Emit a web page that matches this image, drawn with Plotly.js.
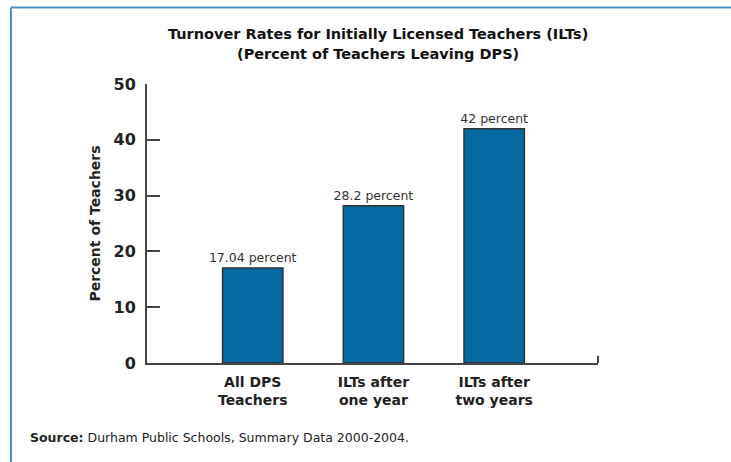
<!DOCTYPE html>
<html>
<head>
<meta charset="utf-8">
<script src="https://cdn.plot.ly/plotly-3.0.1.min.js"></script>
<style>html,body{margin:0;padding:0;background:#fff;}#chart{width:731px;height:462px;}</style>
</head>
<body>
<div id="chart"></div>
<script>
var categories = ["All DPS<br>Teachers", "ILTs after<br>one year", "ILTs after<br>two years"];
var values = [17.04, 28.2, 42];
var valueLabels = ["17.04 percent", "28.2 percent", "42 percent"];
var yTickValues = [0, 10, 20, 30, 40, 50];
var yTickLabels = ["0", "10", "20", "30", "40", "50"];

var FONT = "DejaVu Sans, Arial, sans-serif";

var trace = {
  type: "bar",
  x: [0, 1, 2],
  y: values,
  width: 0.5,
  text: valueLabels,
  textposition: "outside",
  constraintext: "none",
  textfont: {family: FONT, size: 12.5, color: "#333"},
  cliponaxis: false,
  marker: {color: "#036aa0", line: {color: "#333", width: 1.5}},
  hoverinfo: "none"
};

var layout = {
  width: 731, height: 462,
  margin: {l: 147, r: 133, t: 84, b: 99},
  paper_bgcolor: "#ffffff",
  plot_bgcolor: "#ffffff",
  showlegend: false,
  font: {family: FONT, color: "#222"},
  xaxis: {
    range: [-0.876, 2.86],
    tickvals: [0, 1, 2],
    ticktext: categories,
    showgrid: false, zeroline: false,
    showline: true, linecolor: "#444", linewidth: 2,
    ticks: "",
    tickfont: {family: FONT, size: 14, color: "#222", weight: "bold"},
    ticklabelstandoff: 5,
    fixedrange: true
  },
  yaxis: {
    range: [0, 50],
    tickvals: yTickValues,
    ticktext: yTickLabels,
    showgrid: false, zeroline: false,
    showline: true, linecolor: "#444", linewidth: 2,
    ticks: "inside", ticklen: 13, tickwidth: 2, tickcolor: "#444",
    tickfont: {family: FONT, size: 16, color: "#222", weight: "bold"},
    ticklabelstandoff: 6,
    title: {text: "Percent of Teachers", font: {family: FONT, size: 14, color: "#222", weight: "bold"}, standoff: 10},
    fixedrange: true
  },
  shapes: [
    {type: "line", xref: "paper", yref: "y", x0: 1, x1: 1, y0: 0, y1: 1.3, line: {color: "#444", width: 2}},
    {type: "line", xref: "paper", yref: "paper", x0: -0.3016, x1: 1.3, y0: 1.2742, y1: 1.2742, line: {color: "#4a90c4", width: 2}},
    {type: "line", xref: "paper", yref: "paper", x0: -0.3016, x1: -0.3016, y0: 1.2742, y1: -0.36, line: {color: "#4a90c4", width: 2}}
  ],
  annotations: [
    {xref: "paper", yref: "paper", x: 0.5133, y: (363 - 34) / 279, xanchor: "center", yanchor: "middle", showarrow: false,
     text: "<b>Turnover Rates for Initially Licensed Teachers (ILTs)</b>", font: {family: FONT, size: 14.5, color: "#111"}},
    {xref: "paper", yref: "paper", x: 0.5133, y: (363 - 54) / 279, xanchor: "center", yanchor: "middle", showarrow: false,
     text: "<b>(Percent of Teachers Leaving DPS)</b>", font: {family: FONT, size: 14.5, color: "#111"}},
    {xref: "paper", yref: "paper", x: (28 - 147) / 451, y: (363 - 437) / 279, xanchor: "left", yanchor: "middle", showarrow: false,
     text: "<b>Source:</b> Durham Public Schools, Summary Data 2000-2004.", font: {family: FONT, size: 12.5, color: "#222"}}
  ]
};

Plotly.newPlot("chart", [trace], layout, {staticPlot: true, displayModeBar: false});
</script>
</body>
</html>
